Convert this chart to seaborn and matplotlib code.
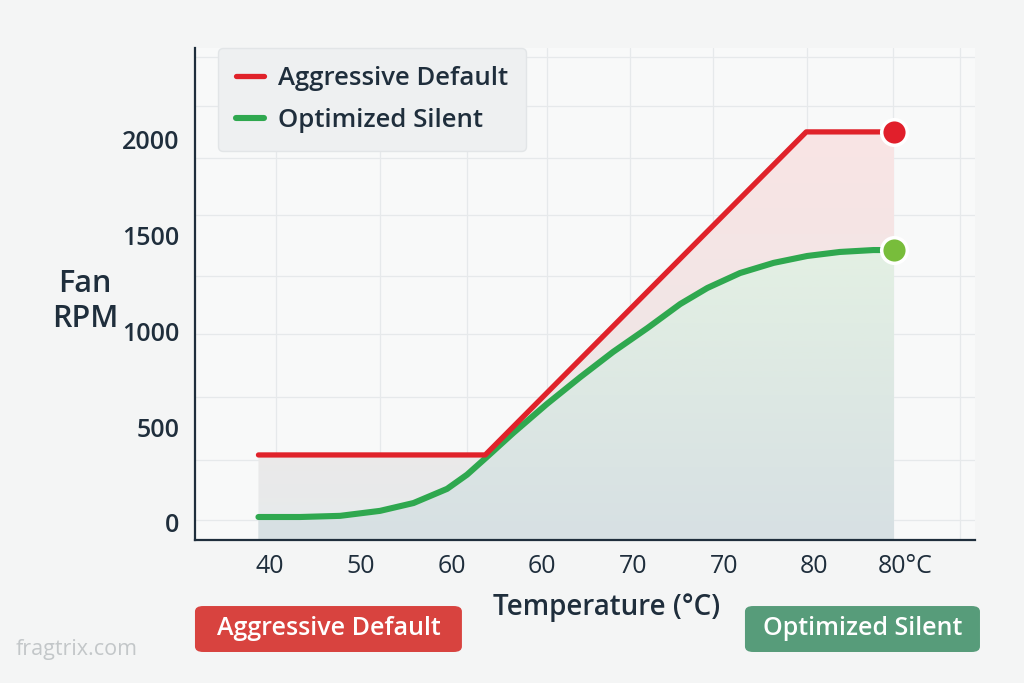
import numpy as np
import pandas as pd
import matplotlib
matplotlib.use("Agg")
import matplotlib.pyplot as plt
import seaborn as sns
from matplotlib.colors import LinearSegmentedColormap
from matplotlib.patches import FancyBboxPatch

# x values are tick slots: 0 = first "40" label ... 7 = "80°C"
tick_labels = ["40", "50", "60", "60", "70", "70", "80", "80°C"]
rpm_ticks = [0, 500, 1000, 1500, 2000]

aggr_x = [-0.13, 2.37, 5.91, 6.88]
aggr_rpm = [355, 355, 2042, 2042]

silent_x = [-0.13, 0.33, 0.77, 1.21, 1.58, 1.95, 2.17, 2.39, 2.68, 3.05, 3.42,
            3.78, 4.16, 4.52, 4.82, 5.18, 5.55, 5.92, 6.28, 6.65, 6.88]
silent_rpm = [31, 31, 37, 63, 104, 178, 252, 345, 470, 621, 762,
              893, 1018, 1143, 1227, 1305, 1358, 1394, 1415, 1425, 1425]

RED = "#e0222a"
GREEN = "#2fa84f"
INK = "#1f2e3c"

sns.set_theme(style="white")
plt.rcParams['font.family'] = ['Open Sans', 'DejaVu Sans']

fig = plt.figure(figsize=(10.24, 6.83), dpi=100, facecolor="#f4f5f5")
ax = fig.add_axes([0.1904, 0.2094, 0.7617, 0.7203])
ax.set_facecolor("#f8f9f9")
ymin, ymax = -89, 2480
ax.set_xlim(-0.83, 7.77)
ax.set_ylim(ymin, ymax)

# gradient fills under each curve
def gradient_fill(x, y, colors, zorder):
    poly = ax.fill_between(x, y, ymin, color="none", lw=0, zorder=zorder)
    cmap = LinearSegmentedColormap.from_list("g", colors)
    grad = np.linspace(0, 1, 256).reshape(-1, 1)
    img = ax.imshow(grad, cmap=cmap, aspect="auto", origin="lower",
                    extent=[x[0], x[-1], ymin, max(y)], zorder=zorder)
    img.set_clip_path(poly.get_paths()[0], transform=ax.transData)

gradient_fill(aggr_x, aggr_rpm, ["#e6ebec", "#f1e6e6", "#f9e4e4"], 1)
gradient_fill(silent_x, silent_rpm, ["#d7e0e4", "#dde8e3", "#e3f0e3"], 2)

df_aggr = pd.DataFrame({"temp": aggr_x, "rpm": aggr_rpm})
df_silent = pd.DataFrame({"temp": silent_x, "rpm": silent_rpm})

sns.lineplot(data=df_aggr, x="temp", y="rpm", color=RED, lw=3.8,
             label="Aggressive Default", ax=ax, zorder=4)
sns.lineplot(data=df_silent, x="temp", y="rpm", color=GREEN, lw=4.4,
             label="Optimized Silent", ax=ax, zorder=3)
for ln in ax.get_lines():
    ln.set_solid_joinstyle("round")
    ln.set_solid_capstyle("round")

# end-point dots
ax.scatter([aggr_x[-1]], [aggr_rpm[-1]], s=340, color="#e11f2b",
           edgecolor="white", linewidth=2.5, zorder=6)
ax.scatter([silent_x[-1]], [silent_rpm[-1]], s=340, color="#78bd3b",
           edgecolor="white", linewidth=2.5, zorder=6)

# axes styling
ax.set_xticks(range(len(tick_labels)))
ax.set_xticklabels(tick_labels, fontsize=18, color=INK)
ax.set_yticks(rpm_ticks)
ax.set_yticklabels([str(v) for v in rpm_ticks], fontsize=18, color=INK,
                   fontweight="semibold")
ax.tick_params(axis="both", length=0)
ax.tick_params(axis="x", pad=10)
ax.tick_params(axis="y", pad=11)
ax.set_xlabel("")
ax.set_ylabel("")

ax.set_xticks([0.06, 1.21, 2.17, 3.05, 3.97, 4.88, 5.92, 6.87, 7.61], minor=True)
ax.set_yticks([16, 329, 660, 984, 1287, 1610, 1907, 2178, 2433], minor=True)
ax.tick_params(which="minor", length=0)
ax.grid(False, which="major")
ax.grid(True, which="minor", color="#e6e9eb", lw=0.9)
ax.set_axisbelow(True)

for side in ["top", "right"]:
    ax.spines[side].set_visible(False)
for side in ["left", "bottom"]:
    ax.spines[side].set_color(INK)
    ax.spines[side].set_linewidth(1.6)

leg = ax.legend(loc="upper left", bbox_to_anchor=(0.029, 1.0), borderaxespad=0,
                frameon=True, fancybox=True, fontsize=18.5, handlelength=1.1,
                handletextpad=0.55, borderpad=0.7, labelspacing=0.65,
                facecolor="#eef0f1", edgecolor="#e2e5e7", framealpha=1)
for t in leg.get_texts():
    t.set_color(INK)
    t.set_fontweight("semibold")
leg.get_frame().set_linewidth(1.0)

# axis titles
fig.text(0.083, 0.559, "Fan\nRPM", ha="center", va="center", fontsize=22,
         fontweight="semibold", color=INK, linespacing=1.2)
fig.text(0.592, 0.110, "Temperature (°C)", ha="center", va="center",
         fontsize=20, fontweight="semibold", color=INK)

# badges
for x0, w, face, label in [(0.1904, 0.2607, "#d8433f", "Aggressive Default"),
                           (0.7275, 0.2295, "#579c7a", "Optimized Silent")]:
    fig.patches.append(FancyBboxPatch((x0, 0.0454), w, 0.0673,
                                      boxstyle="round,pad=0,rounding_size=0.008",
                                      transform=fig.transFigure, facecolor=face,
                                      edgecolor="none"))
    fig.text(x0 + w / 2, 0.0791, label, ha="center", va="center", fontsize=18,
             fontweight="semibold", color="white")

fig.text(0.0752, 0.049, "fragtrix.com", ha="center", va="center", fontsize=15.5,
         color="#c3c7c9")

fig.savefig("out.png", dpi=100, facecolor=fig.get_facecolor())
